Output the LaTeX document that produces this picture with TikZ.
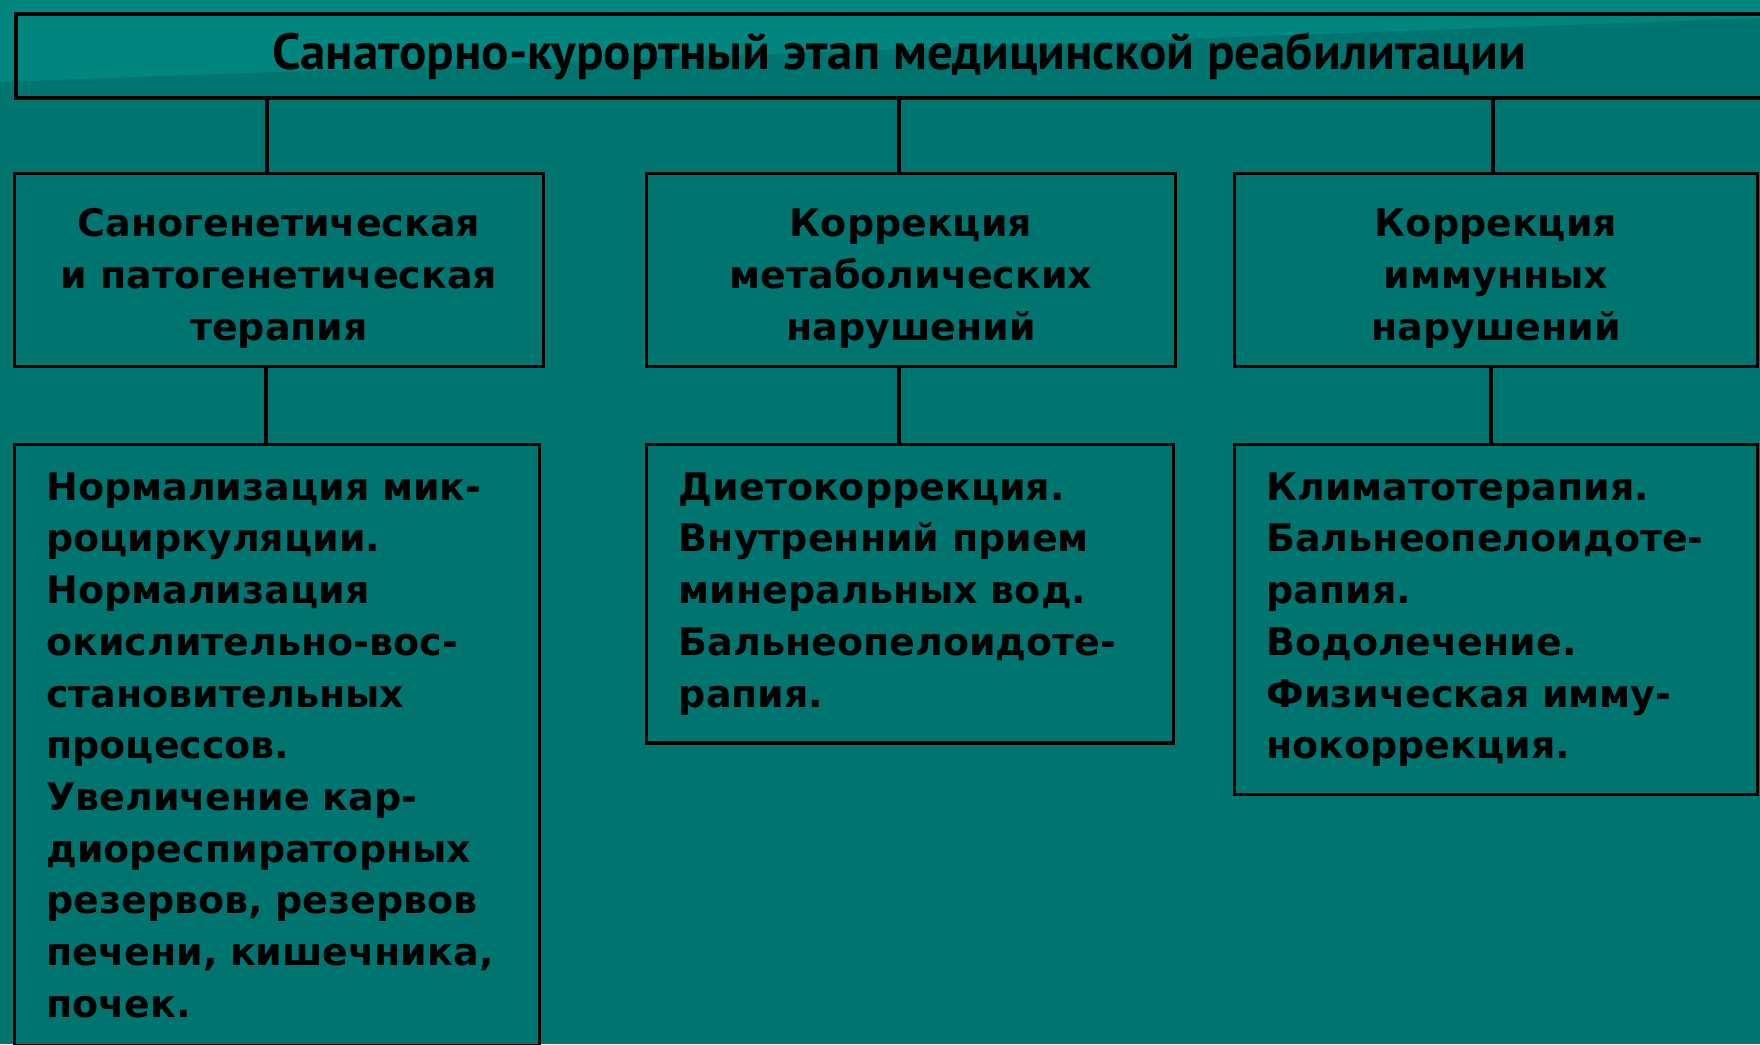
\documentclass[tikz,border=0pt]{standalone}
\usepackage{fontspec}
\setmainfont{DejaVu Sans}
\newfontfamily\titlefont{PT Sans}
\definecolor{sea}{HTML}{007570}
\definecolor{sealight}{HTML}{00857F}

\begin{document}
\begin{tikzpicture}[x=0.01cm,y=-0.01cm]

	\tikzset{block/.style = {shape=rectangle,draw,line width=0.9pt,inner sep=0pt,font=\bfseries\fontsize{10.8}{14.7}\selectfont}}
	\tikzset{dirbox/.style = {block,align=center,minimum height=1.93cm,text height=40pt,text depth=0pt}}
	\tikzset{listbox/.style = {block,align=left,anchor=north,inner xsep=0.32cm,inner ysep=0.28cm}}
	\tikzset{edge/.style = {-,line width=0.9pt}}

	\fill[sea] (0,0) rectangle (1760,1044);
	\fill[sealight] (0,0) -- (1760,0) -- (1760,18) -- (0,82) -- cycle;
	\useasboundingbox (0,0) rectangle (1760,1044);

	\node[block,minimum width=17.65cm,minimum height=0.84cm,font=\titlefont\bfseries\fontsize{14.5}{18}\selectfont] (stage) at (899,56) {Санаторно-курортный этап медицинской реабилитации};

	\node[dirbox,minimum width=5.28cm] (d1) at (279,270) {Саногенетическая\\и патогенетическая\\терапия};
	\node[dirbox,minimum width=5.29cm] (d2) at (911,270) {Коррекция\\метаболических\\нарушений};
	\node[dirbox,minimum width=5.23cm] (d3) at (1496,270) {Коррекция\\иммунных\\нарушений};

	\node[listbox,text width=4.61cm] (m1) at (277,443) {Нормализация мик-\\роциркуляции.\\Нормализация\\окислительно-вос-\\становительных\\процессов.\\Увеличение кар-\\диореспираторных\\резервов, резервов\\печени, кишечника,\\почек.};
	\node[listbox,text width=4.62cm] (m2) at (910,443) {Диетокоррекция.\\Внутренний прием\\минеральных вод.\\Бальнеопелоидоте-\\рапия.};
	\node[listbox,text width=4.59cm] (m3) at (1496,443) {Климатотерапия.\\Бальнеопелоидоте-\\рапия.\\Водолечение.\\Физическая имму-\\нокоррекция.};

	\draw[edge] ([xshift=-0.12cm]d1.north) -- ([xshift=-0.12cm]d1.north |- stage.south);
	\draw[edge] ([xshift=-0.12cm]d2.north) -- ([xshift=-0.12cm]d2.north |- stage.south);
	\draw[edge] ([xshift=-0.03cm]d3.north) -- ([xshift=-0.03cm]d3.north |- stage.south);
	\draw[edge] ([xshift=-0.13cm]d1.south) -- ([xshift=-0.13cm]d1.south |- m1.north);
	\draw[edge] ([xshift=-0.12cm]d2.south) -- ([xshift=-0.12cm]d2.south |- m2.north);
	\draw[edge] ([xshift=-0.05cm]d3.south) -- ([xshift=-0.05cm]d3.south |- m3.north);
\end{tikzpicture}
\end{document}
